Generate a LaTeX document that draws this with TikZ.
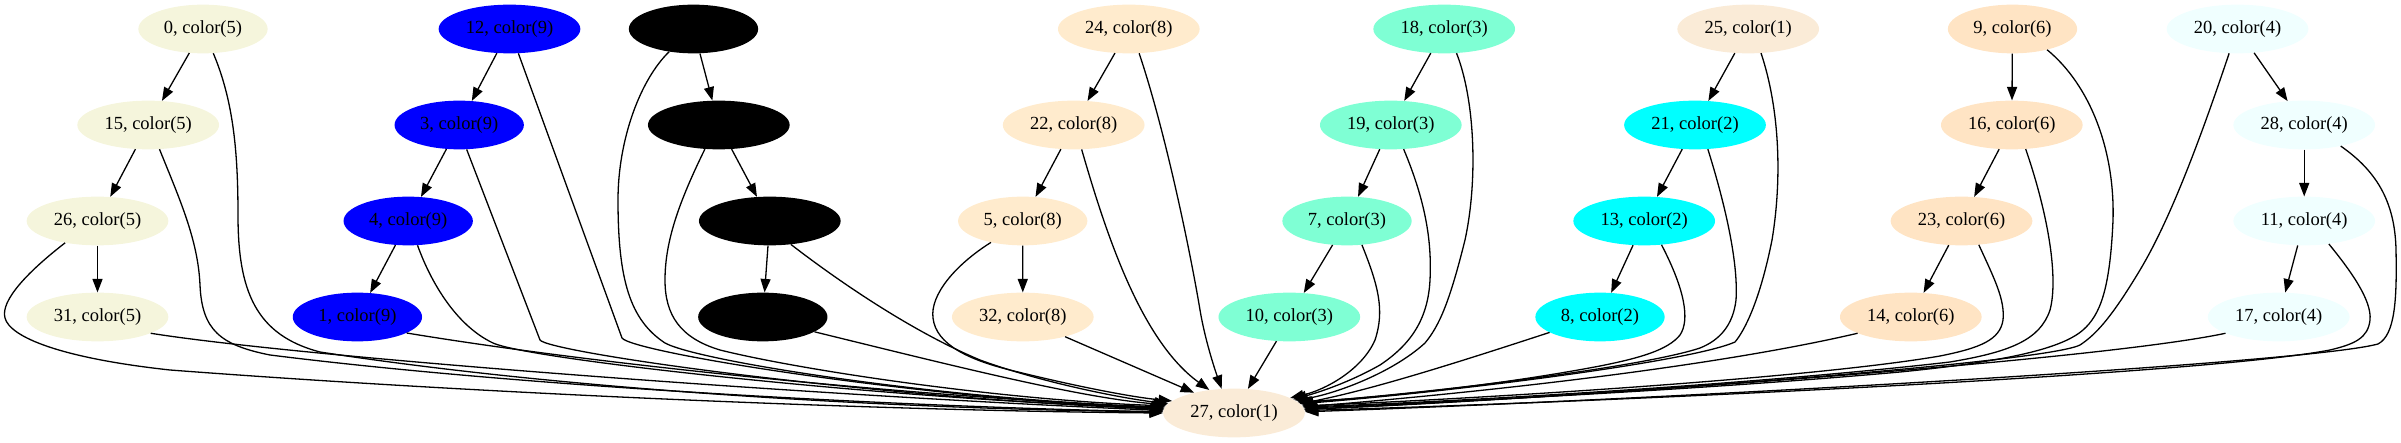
\documentclass[tikz,border=0pt]{standalone}
\usepackage{fontspec}
\setmainfont{Liberation Serif}
\usetikzlibrary{shapes.geometric,arrows.meta}
\definecolor{cbeige}{HTML}{F5F5DC}
\definecolor{cblue}{HTML}{0000FF}
\definecolor{calmond}{HTML}{FFEBCD}
\definecolor{cantique}{HTML}{FAEBD7}
\definecolor{caquam}{HTML}{7FFFD4}
\definecolor{caqua}{HTML}{00FFFF}
\definecolor{cbisque}{HTML}{FFE4C4}
\definecolor{cazure}{HTML}{F0FFFF}
\tikzset{
  nd/.style={ellipse, draw=none, minimum height=48.7pt, inner sep=0pt, font=\fontsize{18.5}{22}\selectfont},
  nn/.style={nd, minimum width=129.3pt},
  nw/.style={nd, minimum width=141.7pt},
  e/.style={draw=black, line width=1.3pt, -{Triangle[length=13.5pt,width=10pt]}},
}
\begin{document}
\begin{tikzpicture}[x=1pt,y=-1pt]
\useasboundingbox (0,0) rectangle (2401,443);
% nodes
\node[nn,fill=cbeige] (n0) at (203,29) {0, color(5)};
\node[nw,fill=cbeige] (n15) at (148.2,125) {15, color(5)};
\node[nw,fill=cbeige] (n26) at (97.5,221) {26, color(5)};
\node[nw,fill=cbeige] (n31) at (97.5,317) {31, color(5)};
\node[nw,fill=cblue] (n12) at (509.5,29) {12, color(9)};
\node[nn,fill=cblue] (n3) at (459.2,125) {3, color(9)};
\node[nn,fill=cblue] (n4) at (408.2,221) {4, color(9)};
\node[nn,fill=cblue] (n1) at (357.4,317) {1, color(9)};
\node[nn,fill=black] (k1) at (693.5,29) {};
\node[nw,fill=black] (k2) at (718.8,125) {};
\node[nw,fill=black] (k3) at (769.8,221) {};
\node[nn,fill=black] (k4) at (762.8,317) {};
\node[nw,fill=calmond] (n24) at (1128.8,29) {24, color(8)};
\node[nw,fill=calmond] (n22) at (1073.7,125) {22, color(8)};
\node[nn,fill=calmond] (n5) at (1022.7,221) {5, color(8)};
\node[nw,fill=calmond] (n32) at (1022.8,317) {32, color(8)};
\node[nw,fill=cantique] (n27) at (1234,413) {27, color(1)};
\node[nw,fill=caquam] (n18) at (1444.2,29) {18, color(3)};
\node[nw,fill=caquam] (n19) at (1390.8,125) {19, color(3)};
\node[nn,fill=caquam] (n7) at (1347,221) {7, color(3)};
\node[nw,fill=caquam] (n10) at (1289.3,317) {10, color(3)};
\node[nw,fill=cantique] (n25) at (1748.2,29) {25, color(1)};
\node[nw,fill=caqua] (n21) at (1695,125) {21, color(2)};
\node[nw,fill=caqua] (n13) at (1644.2,221) {13, color(2)};
\node[nn,fill=caqua] (n8) at (1600,317) {8, color(2)};
\node[nn,fill=cbisque] (n9) at (2012.5,29) {9, color(6)};
\node[nw,fill=cbisque] (n16) at (2011.8,125) {16, color(6)};
\node[nw,fill=cbisque] (n23) at (1961.5,221) {23, color(6)};
\node[nw,fill=cbisque] (n14) at (1910.8,317) {14, color(6)};
\node[nw,fill=cazure] (n20) at (2237.5,29) {20, color(4)};
\node[nw,fill=cazure] (n28) at (2304.2,125) {28, color(4)};
\node[nw,fill=cazure] (n11) at (2304.2,221) {11, color(4)};
\node[nw,fill=cazure] (n17) at (2278.7,317) {17, color(4)};
% chain edges
\draw[e] (n0) -- (n15);
\draw[e] (n15) -- (n26);
\draw[e] (n26) -- (n31);
\draw[e] (n12) -- (n3);
\draw[e] (n3) -- (n4);
\draw[e] (n4) -- (n1);
\draw[e] (k1) -- (k2);
\draw[e] (k2) -- (k3);
\draw[e] (k3) -- (k4);
\draw[e] (n24) -- (n22);
\draw[e] (n22) -- (n5);
\draw[e] (n5) -- (n32);
\draw[e] (n18) -- (n19);
\draw[e] (n19) -- (n7);
\draw[e] (n7) -- (n10);
\draw[e] (n25) -- (n21);
\draw[e] (n21) -- (n13);
\draw[e] (n13) -- (n8);
\draw[e] (n9) -- (n16);
\draw[e] (n16) -- (n23);
\draw[e] (n23) -- (n14);
\draw[e] (n20) -- (n28);
\draw[e] (n28) -- (n11);
\draw[e] (n11) -- (n17);
% edges to 27, left group
\draw[e] (n0.293) .. controls (233,100) and (238,150) .. (238,215) .. controls (238,290) and (255,335) .. (320,352) .. controls (600,395) and (950,410) .. (n27.179);
\draw[e] (n15.295) .. controls (180,200) and (198,240) .. (200,285) .. controls (202,330) and (220,345) .. (270,355) .. controls (550,390) and (950,408) .. (n27.179);
\draw[e] (n26.214) .. controls (30,270) and (0,300) .. (5,318) .. controls (10,337) and (60,358) .. (170,370) .. controls (500,395) and (900,411) .. (n27.180);
\draw[e] (n31.343) .. controls (300,357) and (800,395) .. (n27.178);
\draw[e] (n12.290) -- (622,338) .. controls (632,352) and (900,396) .. (n27.177);
\draw[e] (n3.287) -- (540,340) .. controls (548,352) and (850,396) .. (n27.177);
\draw[e] (n4.291) .. controls (430,280) and (455,325) .. (493,343) .. controls (530,360) and (900,400) .. (n27.176);
\draw[e] (n1.342) .. controls (600,365) and (900,395) .. (n27.176);
\draw[e] (k1.223) .. controls (640,80) and (618,140) .. (618,200) .. controls (618,280) and (630,320) .. (665,343) .. controls (700,362) and (950,400) .. (n27.175);
\draw[e] (k2.240) .. controls (680,200) and (665,240) .. (665,280) .. controls (665,315) and (680,338) .. (720,350) .. controls (800,370) and (1000,400) .. (n27.174);
\draw[e] (k3.312) .. controls (850,290) and (920,335) .. (980,360) .. controls (1040,382) and (1120,398) .. (n27.172);
\draw[e] (k4.344) .. controls (950,365) and (1080,398) .. (n27.173);
\draw[e] (n24.293) .. controls (1165,130) and (1190,250) .. (1200,310) .. controls (1205,340) and (1215,370) .. (n27.117);
\draw[e] (n22.288) .. controls (1105,230) and (1140,340) .. (n27.137);
\draw[e] (n5.214) .. controls (955,265) and (930,295) .. (933,318) .. controls (936,345) and (970,360) .. (1010,370) .. controls (1070,385) and (1130,397) .. (n27.169);
\draw[e] (n32.335) -- (n27.153);
% edges to 27, right group
\draw[e] (n18.297) .. controls (1475,100) and (1478,180) .. (1465,240) .. controls (1450,300) and (1440,325) .. (1425,343) .. controls (1390,375) and (1330,395) .. (n27.12);
\draw[e] (n19.298) .. controls (1425,200) and (1432,240) .. (1430,280) .. controls (1428,320) and (1410,345) .. (1380,365) .. controls (1350,382) and (1320,392) .. (n27.13);
\draw[e] (n7.302) .. controls (1378,285) and (1385,310) .. (1375,340) .. controls (1362,370) and (1325,390) .. (n27.15);
\draw[e] (n10.242) -- (n27.60);
\draw[e] (n25.298) .. controls (1780,110) and (1782,180) .. (1772,240) .. controls (1760,300) and (1745,330) .. (1735,342) .. controls (1690,362) and (1450,392) .. (n27.8);
\draw[e] (n21.298) .. controls (1730,220) and (1738,270) .. (1736,300) .. controls (1733,325) and (1720,340) .. (1700,348) .. controls (1640,368) and (1420,394) .. (n27.9);
\draw[e] (n13.306) .. controls (1685,290) and (1690,320) .. (1680,335) .. controls (1668,350) and (1640,358) .. (1600,366) .. controls (1500,385) and (1380,398) .. (n27.10);
\draw[e] (n8.197) .. controls (1450,365) and (1370,390) .. (n27.8);
\draw[e] (n9.329) .. controls (2090,85) and (2115,150) .. (2113,220) .. controls (2110,290) and (2100,315) .. (2083,330) .. controls (2060,350) and (2000,362) .. (1900,372) .. controls (1700,390) and (1450,402) .. (n27.4);
\draw[e] (n16.300) .. controls (2050,220) and (2058,280) .. (2050,310) .. controls (2040,340) and (2010,352) .. (1950,362) .. controls (1750,385) and (1450,402) .. (n27.5);
\draw[e] (n23.306) .. controls (1995,280) and (2005,300) .. (2003,320) .. controls (2000,340) and (1980,348) .. (1940,356) .. controls (1800,380) and (1450,400) .. (n27.6);
\draw[e] (n14.197) .. controls (1700,370) and (1450,395) .. (n27.5);
\draw[e] (n20.251) .. controls (2200,140) and (2170,220) .. (2140,270) .. controls (2110,320) and (2095,335) .. (2080,345) .. controls (2040,365) and (1500,402) .. (n27.3);
\draw[e] (n28.330) .. controls (2375,170) and (2395,200) .. (2396,250) .. controls (2397,300) and (2395,335) .. (2378,344) .. controls (2300,365) and (1600,402) .. (n27.1);
\draw[e] (n11.317) .. controls (2350,270) and (2372,300) .. (2370,320) .. controls (2368,338) and (2355,344) .. (2330,350) .. controls (2200,375) and (1600,402) .. (n27.2);
\draw[e] (n17.197) .. controls (2100,360) and (1600,396) .. (n27.3);
\end{tikzpicture}
\end{document}
